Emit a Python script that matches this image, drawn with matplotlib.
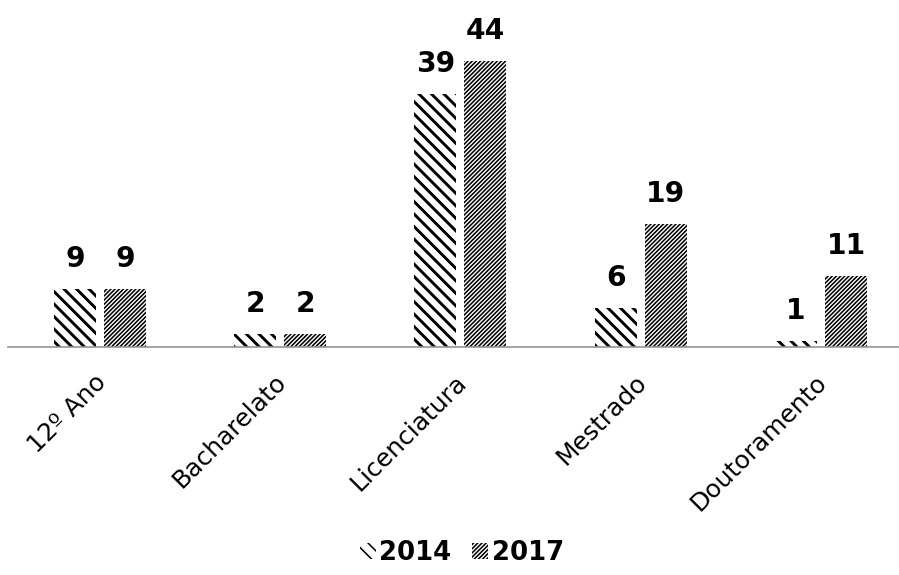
import matplotlib
matplotlib.use("Agg")
import matplotlib.pyplot as plt
import matplotlib.transforms as mtransforms
import numpy as np

categories = ["12º Ano", "Bacharelato", "Licenciatura", "Mestrado", "Doutoramento"]
years = ["2014", "2017"]
v2014 = [9, 2, 39, 6, 1]
v2017 = [9, 2, 44, 19, 11]

plt.rcParams["font.family"] = ["DejaVu Sans"]

DPI = 75
fig = plt.figure(figsize=(899 / DPI, 575 / DPI), dpi=DPI)
ax = fig.add_axes([8 / 899, 1 - 347 / 575, 1 - 8 / 899, 347 / 575])

x = np.arange(len(categories))
w = 0.233
off = 0.139

# wide thick stripes for 2014, fine dense stripes for 2017
plt.rcParams["hatch.linewidth"] = 2.8
b1 = ax.bar(x - off, v2014, w, color="white", edgecolor="black",
            linewidth=0, hatch="\\\\", label=years[0])
plt.rcParams["hatch.linewidth"] = 1.5
b2 = ax.bar(x + off, v2017, w, color="white", edgecolor="black",
            linewidth=0, hatch="//////", label=years[1])

for bars, vals in ((b1, v2014), (b2, v2017)):
    for rect, v in zip(bars, vals):
        ax.annotate(str(v), (rect.get_x() + rect.get_width() / 2, v),
                    xytext=(0, 15), textcoords="offset points",
                    ha="center", va="bottom", fontsize=27, fontweight="bold")

ax.set_xlim(-0.51, 4.433)
ax.set_ylim(0, 53.4)
for s in ("top", "right", "left"):
    ax.spines[s].set_visible(False)
ax.spines["bottom"].set_color("#959595")
ax.spines["bottom"].set_linewidth(1.6)
ax.set_yticks([])
ax.set_xticks(x)
ax.set_xticklabels(categories, rotation=45, ha="right", rotation_mode="anchor",
                   fontsize=24)
ax.tick_params(axis="x", length=0, pad=22)

# nudge the slanted labels a little to the left
nudge = mtransforms.ScaledTranslation(-6 / DPI, 0, fig.dpi_scale_trans)
for lab in ax.get_xticklabels():
    lab.set_transform(lab.get_transform() + nudge)

fig.legend(loc="center", bbox_to_anchor=(0.514, 1 - 553 / 575), ncol=2,
           frameon=False, prop={"size": 25, "weight": "bold"},
           handlelength=0.6, handleheight=0.6, handletextpad=0.15,
           columnspacing=0.8)

fig.savefig("out.png", dpi=DPI, facecolor="white")
